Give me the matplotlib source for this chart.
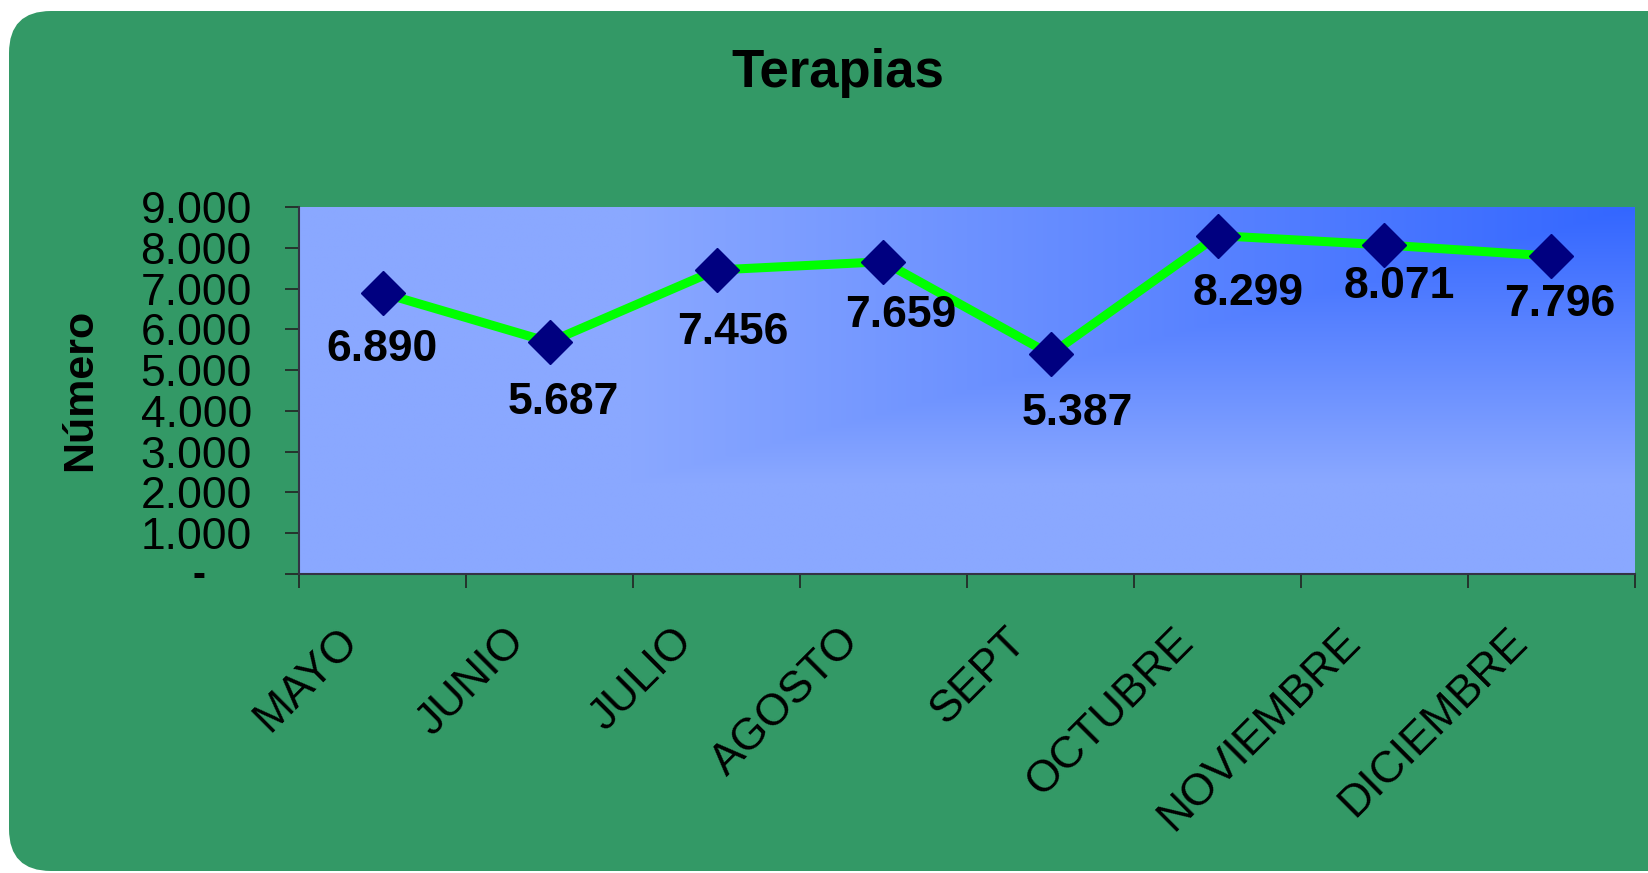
import matplotlib

matplotlib.use("Agg")
import matplotlib.pyplot as plt
import numpy as np
from matplotlib.patches import FancyBboxPatch
from matplotlib.ticker import FixedLocator, FuncFormatter

months = ["MAYO", "JUNIO", "JULIO", "AGOSTO", "SEPT", "OCTUBRE", "NOVIEMBRE", "DICIEMBRE"]
terapias = [6890, 5687, 7456, 7659, 5387, 8299, 8071, 7796]
y_ticks = [0, 1000, 2000, 3000, 4000, 5000, 6000, 7000, 8000, 9000]

title = "Terapias"
y_label = "Número"

GREEN_BG = "#339966"
LINE = "#00FF00"
MARKER = "#000080"
GRAD_DARK = np.array([51, 102, 255]) / 255
GRAD_LIGHT = np.array([138, 168, 255]) / 255

W_PX, H_PX, DPI = 1648, 873, 100

plt.rcParams["font.family"] = ["Liberation Sans", "DejaVu Sans"]


def thousands(v, _pos=None):
    if v == 0:
        return ""
    return f"{v:,.0f}".replace(",", ".")


def corner_gradient(w=400, h=200):
    # rectangular "from corner" fill, darkest in the top-right corner
    u = 1 - np.linspace(0, 1, w)[None, :]
    v = np.linspace(0, 1, h)[:, None]
    t = np.clip(np.maximum(u, v) / 0.75, 0, 1)[..., None]
    return GRAD_DARK * (1 - t) + GRAD_LIGHT * t


fig = plt.figure(figsize=(W_PX / DPI, H_PX / DPI), dpi=DPI)
fig.patch.set_facecolor("white")

# rounded green panel behind everything, laid out in pixel units
bg = fig.add_axes([0, 0, 1, 1], zorder=-1)
bg.set_xlim(0, W_PX)
bg.set_ylim(H_PX, 0)
bg.axis("off")
bg.add_patch(FancyBboxPatch((9, 11), 1700, 860, boxstyle="round,pad=0,rounding_size=42",
                            facecolor=GREEN_BG, edgecolor="none"))

left, right, top, bottom = 299, 1635, 207, 574
ax = fig.add_axes([left / W_PX, 1 - bottom / H_PX, (right - left) / W_PX, (bottom - top) / H_PX])
ax.patch.set_alpha(0)

x = np.arange(len(months))
ax.imshow(corner_gradient(), extent=(-0.5, len(months) - 0.5, 0, 9000), aspect="auto",
          origin="upper", zorder=0, interpolation="bilinear")
ax.plot(x, terapias, color=LINE, lw=6.5, zorder=3, solid_capstyle="round")
ax.plot(x, terapias, ls="none", marker="D", ms=22, color=MARKER, mec=MARKER, zorder=4)

ax.set_xlim(-0.5, len(months) - 0.5)
ax.set_ylim(0, 9000)

for side in ("top", "right"):
    ax.spines[side].set_visible(False)
for side in ("left", "bottom"):
    ax.spines[side].set_color("#333344")
    ax.spines[side].set_linewidth(1.5)

ax.yaxis.set_major_locator(FixedLocator(y_ticks))
ax.yaxis.set_major_formatter(FuncFormatter(thousands))
ax.tick_params(axis="y", length=10, width=1.2, color="#222222", pad=24, labelsize=32)
# zero is shown as a dash, set further left like an accounting format
ax.annotate("-", xy=(0, 0), xycoords="axes fraction", xytext=(-72, -1.5), textcoords="offset points",
            fontsize=28, fontweight="bold", ha="center", va="center")

# tick marks sit on the category boundaries, labels are drawn separately
ax.xaxis.set_major_locator(FixedLocator(np.arange(-0.5, len(months), 1.0)))
ax.xaxis.set_major_formatter(FuncFormatter(lambda v, p: ""))
ax.tick_params(axis="x", length=10, width=1.2, color="#222222")

for xi, name in zip(x, months):
    ax.annotate(name, xy=(xi, 0), xycoords=("data", "axes fraction"), xytext=(-22, -44),
                textcoords="offset points", rotation=45, rotation_mode="anchor",
                ha="right", va="center", fontsize=32)

# value labels under each marker (offsets in pixels)
label_shift = [(0, 56), (14, 60), (16, 63), (17, 54), (27, 59), (31, 58), (15, 42), (8, 48)]
for xi, val, (dx, dy) in zip(x, terapias, label_shift):
    ax.annotate(thousands(val), xy=(xi, val), xytext=(dx * 0.72, -dy * 0.72),
                textcoords="offset points", ha="center", va="center",
                fontsize=32, fontweight="bold", zorder=5)

fig.text(838 / W_PX, 1 - 73 / H_PX, title, ha="center", va="center", fontsize=38, fontweight="bold")
fig.text(80 / W_PX, 1 - 390 / H_PX, y_label, ha="center", va="center", rotation=90,
         fontsize=31, fontweight="bold")

fig.savefig("out.png", dpi=DPI)
